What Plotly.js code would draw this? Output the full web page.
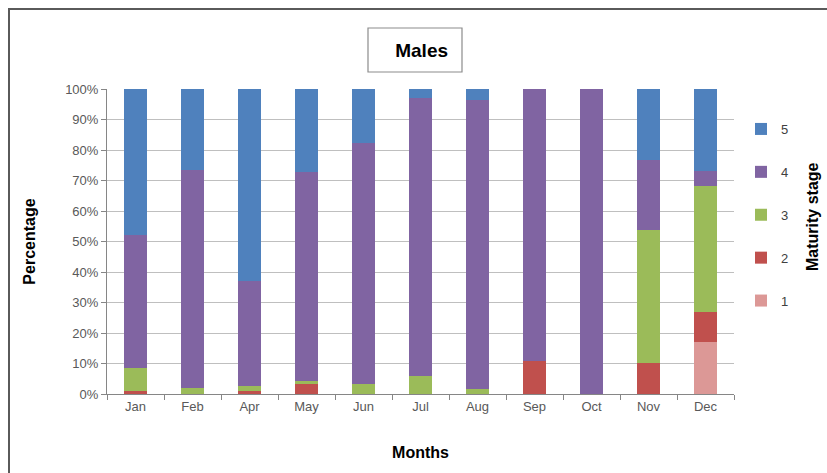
<!DOCTYPE html>
<html>
<head>
<meta charset="utf-8">
<script src="https://cdn.plot.ly/plotly-3.0.1.min.js"></script>
<style>
  html, body { margin: 0; padding: 0; background: #ffffff; }
  #chart { width: 827px; height: 473px; }
</style>
</head>
<body>
<div id="chart"></div>
<script>
// Monthly share of male maturity stages (percent of each month's sample)
const months = ["Jan", "Feb", "Apr", "May", "Jun", "Jul", "Aug", "Sep", "Oct", "Nov", "Dec"];
const stage1 = [0, 0, 0, 0, 0, 0, 0, 0, 0, 0, 17];
const stage2 = [1.1, 0, 1.1, 3.3, 0, 0, 0, 10.9, 0, 10.1, 9.8];
const stage3 = [7.3, 2, 1.4, 1, 3.3, 6, 1.8, 0, 0, 43.7, 41.5];
const stage4 = [43.6, 71.5, 34.4, 68.5, 78.9, 91, 94.5, 89.1, 100, 23, 4.8];
const stage5 = [48, 26.5, 63.1, 27.2, 17.8, 3, 3.7, 0, 0, 23.2, 26.9];
const stageNames = ["1", "2", "3", "4", "5"];
const stageValues = [stage1, stage2, stage3, stage4, stage5];
const stageColors = ["#DC9896", "#C0504D", "#9BBB59", "#8064A2", "#4F81BD"];

const FONT = "Liberation Sans, Arial, sans-serif";

// stage 5 is listed first in the legend, stage 1 last
const traces = stageValues.map((vals, i) => ({
  type: "bar",
  name: stageNames[i],
  legendgroup: "s" + stageNames[i],
  legendrank: 100 - i,
  x: months,
  y: vals,
  marker: { color: stageColors[i], line: { width: 0 } },
  width: 0.4,
  hoverinfo: "x+y+name"
}));

// Plot-area geometry helpers (pixels -> paper coords)
const L = 107, R = 734, T = 89, B = 394;
const px = v => (v - L) / (R - L);
const py = v => (B - v) / (B - T);

const layout = {
  width: 827,
  height: 473,
  margin: { l: L, r: 827 - R, t: T, b: 473 - B, pad: 0 },
  paper_bgcolor: "#ffffff",
  plot_bgcolor: "#ffffff",
  barmode: "stack",
  bargap: 0.6,
  font: { family: FONT, size: 13, color: "#595959" },
  title: {
    text: "<b>Males</b>",
    font: { family: FONT, size: 19, color: "#000000" },
    x: 415 / 827,
    xanchor: "center",
    xref: "paper",
    y: 1 - 50 / 473,
    yanchor: "middle",
    yref: "container"
  },
  xaxis: {
    type: "category",
    showgrid: false,
    showline: true,
    linecolor: "#868686",
    linewidth: 1,
    ticks: "outside",
    tickson: "boundaries",
    ticklen: 5,
    tickcolor: "#868686",
    tickfont: { family: FONT, size: 13, color: "#595959" },
    title: {
      text: "<b>Months</b>",
      font: { family: FONT, size: 16, color: "#000000" },
      standoff: 34
    },
    fixedrange: true
  },
  yaxis: {
    range: [0, 100],
    dtick: 10,
    ticksuffix: "%",
    showgrid: true,
    gridcolor: "#BFBFBF",
    gridwidth: 1,
    zeroline: false,
    showline: true,
    linecolor: "#868686",
    linewidth: 1,
    ticks: "outside",
    ticklen: 5,
    tickcolor: "#868686",
    tickfont: { family: FONT, size: 13, color: "#595959" },
    title: {
      text: "<b>Percentage</b>",
      font: { family: FONT, size: 16, color: "#000000" },
      standoff: 25
    },
    fixedrange: true
  },
  showlegend: true,
  legend: {
    x: px(741),
    xanchor: "left",
    y: py(114),
    yanchor: "top",
    traceorder: "grouped",
    tracegroupgap: 23,
    itemwidth: 30,
    font: { family: FONT, size: 13, color: "#404040" },
    bgcolor: "rgba(0,0,0,0)",
    borderwidth: 0
  },
  annotations: [{
    text: "<b>Maturity stage</b>",
    textangle: -90,
    xref: "paper",
    yref: "paper",
    x: px(812),
    y: py(217),
    xanchor: "center",
    yanchor: "middle",
    showarrow: false,
    font: { family: FONT, size: 16, color: "#000000" }
  }],
  shapes: [
    // outer chart frame
    {
      type: "rect", xref: "paper", yref: "paper", layer: "above",
      x0: px(9), x1: px(840), y0: py(490), y1: py(9),
      line: { color: "#5a5a5a", width: 2 }, fillcolor: "rgba(0,0,0,0)"
    },
    // box around the title
    {
      type: "rect", xref: "paper", yref: "paper", layer: "below",
      x0: px(368), x1: px(462), y0: py(72), y1: py(28),
      line: { color: "#8c8c8c", width: 1.2 }, fillcolor: "#ffffff"
    }
  ]
};

Plotly.newPlot("chart", traces, layout, { displayModeBar: false, responsive: false });
</script>
</body>
</html>
